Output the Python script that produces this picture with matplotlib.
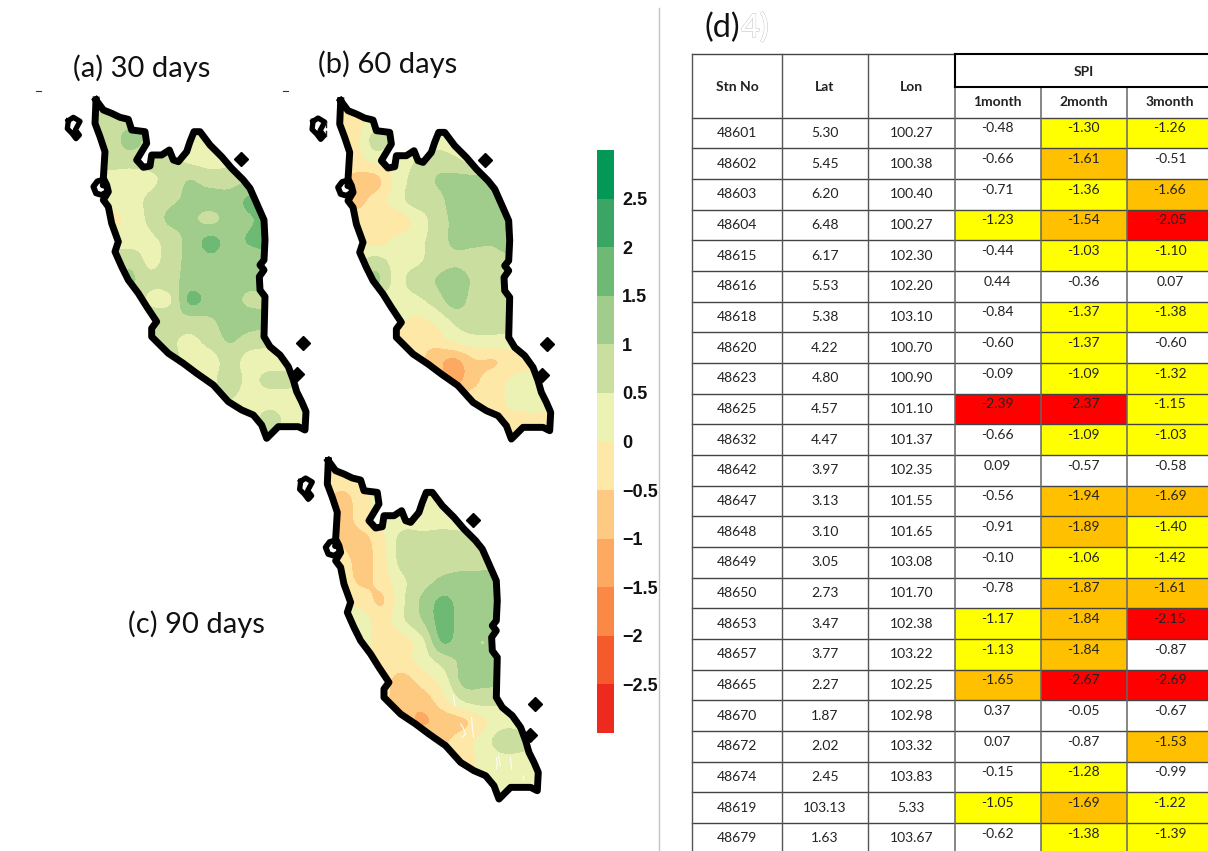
import matplotlib
matplotlib.use("Agg")
import matplotlib.pyplot as plt
import matplotlib.patheffects as pe
from matplotlib.colors import ListedColormap, BoundaryNorm
from matplotlib.cm import ScalarMappable
from matplotlib.patches import Polygon, Rectangle
import numpy as np

W, H = 1208, 851

# ---------- data ----------
STN = ["48601","48602","48603","48604","48615","48616","48618","48620","48623","48625","48632","48642",
       "48647","48648","48649","48650","48653","48657","48665","48670","48672","48674","48619","48679"]
LAT = ["5.30","5.45","6.20","6.48","6.17","5.53","5.38","4.22","4.80","4.57","4.47","3.97",
       "3.13","3.10","3.05","2.73","3.47","3.77","2.27","1.87","2.02","2.45","103.13","1.63"]
LON = ["100.27","100.38","100.40","100.27","102.30","102.20","103.10","100.70","100.90","101.10","101.37","102.35",
       "101.55","101.65","103.08","101.70","102.38","103.22","102.25","102.98","103.32","103.83","5.33","103.67"]
SPI1 = [-0.48,-0.66,-0.71,-1.23,-0.44,0.44,-0.84,-0.60,-0.09,-2.39,-0.66,0.09,
        -0.56,-0.91,-0.10,-0.78,-1.17,-1.13,-1.65,0.37,0.07,-0.15,-1.05,-0.62]
SPI2 = [-1.30,-1.61,-1.36,-1.54,-1.03,-0.36,-1.37,-1.37,-1.09,-2.37,-1.09,-0.57,
        -1.94,-1.89,-1.06,-1.87,-1.84,-1.84,-2.67,-0.05,-0.87,-1.28,-1.69,-1.38]
SPI3 = [-1.26,-0.51,-1.66,-2.05,-1.10,0.07,-1.38,-0.60,-1.32,-1.15,-1.03,-0.58,
        -1.69,-1.40,-1.42,-1.61,-2.15,-0.87,-2.69,-0.67,-1.53,-0.99,-1.22,-1.39]

LEVELS = [-3,-2.5,-2,-1.5,-1,-0.5,0,0.5,1,1.5,2,2.5,3]
LEVEL_COLORS = ["#EE2A1E","#F55A2D","#FB8845","#FDA962","#FEC981","#FEE8A8",
                "#ECF1B4","#CADF9F","#A0CD8C","#6EB974","#3BA565","#039855"]
TICKS = [-2.5,-2,-1.5,-1,-0.5,0,0.5,1,1.5,2,2.5]
TICK_LABELS = ["\u22122.5","\u22122","\u22121.5","\u22121","\u22120.5","0","0.5","1","1.5","2","2.5"]

GRID_X = [150,210,270,330,390,450,510,570,630,690,750,810]
GRID_Y = [60,120,180,240,300,360,420,480,540,600,660,720,780,840,900,960,1020,1080]

FIELD_30 = [
 [.7,.7,.7,.7,.4,.3,.3,.3,.3,.3,.3,.3],
 [.7,.7,.8,.8,.4,.3,.3,.3,.3,.3,.3,.3],
 [.7,.7,1.2,.8,.4,.3,.3,.3,.3,.3,.3,.3],
 [.7,.7,.7,.7,.6,.4,.3,.4,.6,.7,.7,.7],
 [.3,.3,.3,.4,.7,1.0,.8,.8,1.0,1.1,1.1,1.1],
 [.2,.2,.3,.6,.9,1.1,1.2,1.2,1.6,1.6,1.6,1.6],
 [-.2,-.2,.2,.6,1.1,1.1,.9,1.2,1.45,1.7,1.7,1.7],
 [.3,.3,.3,.4,.7,1.2,1.6,1.35,1.55,1.7,1.7,1.7],
 [.6,.6,.8,.4,.7,1.2,1.4,1.3,1.3,1.3,1.3,1.3],
 [.8,.8,1.1,.6,.8,1.2,1.2,1.2,1.2,1.2,1.2,1.2],
 [.7,.7,.7,.45,.45,1.6,1.3,1.2,.9,.9,.9,.9],
 [.7,.7,.7,.7,.8,.85,.95,1.2,1.2,1.1,1.1,1.1],
 [.7,.7,.7,.7,.6,.4,.7,1.05,.8,.7,.7,.7],
 [.7,.7,.7,.7,.7,.3,.3,.7,.3,.3,.3,.3],
 [.7,.7,.7,.7,.7,.4,.4,.7,.4,.65,.6,.3],
 [.5,.5,.5,.5,.5,.4,.4,.5,.3,.3,.3,.3],
 [.3,.3,.3,.3,.3,.3,.3,.3,.3,.7,.3,.3],
 [.3,.3,.3,.3,.3,.3,.3,.3,.3,.3,.3,.3],
]
FIELD_60 = [
 [-.2,-.2,.2,.2,.2,.3,.3,.3,.3,.3,.3,.3],
 [-.2,-.2,.2,.2,.2,.3,.3,.3,.3,.3,.3,.3],
 [-.2,-.2,.7,.4,.3,.3,.3,.3,.3,.3,.3,.3],
 [-.3,-.2,.1,.2,.5,.8,.6,.4,.5,.5,.5,.5],
 [-.4,-.7,-.7,.1,.7,1.0,1.2,1.2,1.2,1.2,1.2,1.2],
 [-.7,-.7,-.3,.2,.7,.8,1.2,1.2,1.2,1.2,1.2,1.2],
 [-.2,-.2,-.3,-.3,.1,.7,1.1,1.2,1.3,1.7,1.7,1.7],
 [.2,.2,-.2,.1,.3,.7,1.1,1.1,1.1,1.6,1.6,1.6],
 [.3,.3,.7,.35,.4,.7,.9,.8,.8,.8,.8,.8],
 [.4,.4,1.1,.4,.7,1.0,1.3,.9,.8,.8,.8,.8],
 [.3,.3,.3,.3,.35,.7,1.2,.8,.8,.8,.8,.8],
 [.2,.2,.2,.2,-.1,.1,.6,.8,.8,.8,.8,.8],
 [-.2,-.2,-.2,-.2,-.3,-.3,.1,.3,.3,.3,.3,.3],
 [-.3,-.3,-.3,-.3,-.3,-.8,-1.1,-.55,-.52,-.2,-.2,-.2],
 [-.6,-.6,-.6,-.6,-.6,-.6,-1.1,-.6,-.2,.1,.3,.3],
 [-.3,-.3,-.3,-.3,-.3,-.3,-.3,-.2,-.2,.2,.3,.2],
 [-.2,-.2,-.2,-.2,-.2,-.2,-.2,-.2,-.2,-.2,-.2,-.2],
 [-.2,-.2,-.2,-.2,-.2,-.2,-.2,-.2,-.2,-.2,-.2,-.2],
]
FIELD_90 = [
 [-.2,-.2,-.2,.2,.2,.3,.3,.3,.3,.3,.3,.3],
 [-.2,-.3,-.2,.2,.2,.3,.3,.3,.3,.3,.3,.3],
 [-.3,-.7,-.2,.2,.2,.3,.3,.3,.3,.3,.3,.3],
 [-.3,-.7,-.3,.0,.3,.3,.3,.3,.3,.3,.3,.3],
 [-.6,-.6,-.7,-.1,.7,.7,.8,.7,.6,.3,.3,.3],
 [-.3,-.3,-.7,-.2,.7,.8,.8,.8,.8,.9,.9,.9],
 [-.2,-.2,-.6,-.3,.4,.8,1.1,1.2,1.2,1.2,1.2,1.2],
 [.1,.1,-.2,-.55,.4,1.1,1.6,1.3,1.2,1.2,1.2,1.2],
 [.1,.1,.2,-.2,.4,1.0,1.7,1.3,1.2,1.2,1.2,1.2],
 [.1,.1,.2,-.3,-.2,.4,1.55,1.2,1.0,1.2,1.2,1.2],
 [.1,.1,.1,-.2,-.2,.2,.7,1.1,1.1,1.1,1.1,1.1],
 [-.3,-.3,-.3,-.3,-.7,-.3,.2,1.1,1.1,1.1,1.1,1.1],
 [-.4,-.4,-.4,-.4,-.8,-.8,-.2,.5,.7,.6,.6,.6],
 [-.8,-.8,-.8,-.8,-.8,-1.05,-.8,-.6,-.1,.3,.3,.3],
 [-.6,-.6,-.6,-.6,-.6,-.6,-.6,-.2,.2,.8,.7,.3],
 [-.2,-.2,-.2,-.2,-.2,-.2,-.2,-.2,.1,.3,.3,.3],
 [-.2,-.2,-.2,-.2,-.2,-.2,-.2,-.2,.2,.3,.3,.3],
 [.3,.3,.3,.3,.3,.3,.3,.3,.3,.3,.3,.3],
]

COAST_X = [168,190,215,240,265,275,315,320,305,290,310,330,335,365,388,400,415,440,450,462,480,510,545,575,610,630,650,672,
           675,672,660,672,658,660,675,672,690,720,745,760,770,785,798,795,775,715,680,665,640,605,565,520,470,430,385,360,
           335,335,350,320,295,265,245,225,235,215,205,190,205,200,190,195,180,165]
COAST_Y = [60,90,100,112,118,150,155,190,215,240,262,258,225,225,210,240,245,215,185,155,155,195,230,265,300,325,370,420,
           480,540,555,570,590,630,650,770,800,825,860,900,935,965,995,1050,1040,1040,1075,1035,1005,990,965,915,880,850,820,795,
           770,745,725,680,640,600,560,515,485,430,380,360,335,315,295,215,170,130]
PENANG_X = [192,172,160,168,185,203,198,188]
PENANG_Y = [298,304,320,340,345,334,318,316]
LANGKAWI_X = [85,100,120,106,118,108,96,82,85]
LANGKAWI_Y = [122,112,124,150,165,176,160,146,122]
ISLETS_X = [602,788,772]
ISLETS_Y = [237,790,883]

SQUIGGLE_X = [[543,546,548],[565,572,580,570],[598,600,604],[672,700,730,745],[672,675,672],[714,718],[752,755],[678,684],[760,770]]
SQUIGGLE_Y = [[765,780,795],[850,860,880,890],[830,860,890],[775,800,830,860],[950,970,985],[950,985],[1005,1018],[945,975],[860,850]]

# ---------- figure ----------
fig = plt.figure(figsize=(W/100, H/100), dpi=100, facecolor="white")
cmap = ListedColormap(LEVEL_COLORS)
norm = BoundaryNorm(LEVELS, cmap.N)

def px_axes(left, top, width, height, **kw):
    return fig.add_axes([left/W, 1-(top+height)/H, width/W, height/H], **kw)

def draw_map(left, top, field, squiggles=False):
    ax = px_axes(left, top, 290, 370)
    im = ax.imshow(np.array(field), cmap=cmap, norm=norm, aspect="auto", origin="upper",
                   extent=(GRID_X[0]-30, GRID_X[-1]+30, GRID_Y[-1]+30, GRID_Y[0]-30),
                   interpolation="catrom", interpolation_stage="data", zorder=2)
    ax.set_xlim(0, 870); ax.set_ylim(1110, 0); ax.axis("off")
    clip = Polygon(np.column_stack([COAST_X, COAST_Y]), closed=True, transform=ax.transData,
                   facecolor="#ECF1B4", edgecolor="none", zorder=1)
    ax.add_patch(clip)
    im.set_clip_path(clip)
    if squiggles:
        for sx, sy in zip(SQUIGGLE_X, SQUIGGLE_Y):
            ax.plot(sx, sy, color="white", lw=0.7, zorder=3)
    ax.plot(COAST_X+COAST_X[:1], COAST_Y+COAST_Y[:1], color="black", lw=5,
            solid_joinstyle="round", zorder=4)
    ax.plot(PENANG_X, PENANG_Y, color="black", lw=4.2, solid_capstyle="round", zorder=4)
    ax.plot(LANGKAWI_X, LANGKAWI_Y, color="black", lw=3.8, zorder=4)
    ax.plot(ISLETS_X, ISLETS_Y, ls="none", marker="D", ms=7.5, color="black", zorder=4)

draw_map(40, 80, FIELD_30)
draw_map(284.7, 80.7, FIELD_60)
draw_map(272.3, 440.7, FIELD_90, squiggles=True)

# colour bar
cax = px_axes(597, 150, 17, 583)
cb = fig.colorbar(ScalarMappable(norm=norm, cmap=cmap), cax=cax, ticks=TICKS, spacing="proportional")
cb.outline.set_visible(False)
cb.ax.minorticks_off()
cb.ax.tick_params(length=0, pad=6)
cb.ax.set_yticklabels(TICK_LABELS, fontfamily="Liberation Sans", fontsize=13, fontweight="bold", color="#111111")

# overlay in pixel units: table, labels, divider
ov = fig.add_axes([0, 0, 1, 1], zorder=5)
ov.set_xlim(0, W); ov.set_ylim(H, 0); ov.axis("off"); ov.patch.set_alpha(0)

ov.plot([659, 659], [8, H], color="#c4c4c4", lw=1)
ov.plot([36, 41], [91, 91], color="#333333", lw=0.8)
ov.plot([283, 288], [91, 91], color="#333333", lw=0.8)
ov.plot([326, 326], [122, 127], color="#222222", lw=1)
ov.plot([326, 326], [131, 136], color="#222222", lw=1)

LABEL_FONT = "Lato"
for x, y, s in [(73, 68, "(a) 30 days"), (318, 64, "(b) 60 days"), (128, 624, "(c) 90 days")]:
    ov.text(x, y, s, fontsize=21, family=LABEL_FONT, va="center", ha="left", color="#111111")
ov.text(705, 28, "(d)", fontsize=23.5, family=LABEL_FONT, va="center", ha="left", color="#111111")
ov.text(741, 28, "4)", fontsize=23.5, family=LABEL_FONT, va="center", ha="left", color="white",
        path_effects=[pe.withStroke(linewidth=0.9, foreground="#c8c8c8"), pe.Normal()])

COL = [692, 782, 868, 954.5, 1040.5, 1127, 1213]
TOP, SUB, HEAD = 54, 87, 117.5
ROW_H = 30.67
n = len(STN)
def shade(v):
    if v <= -2: return "#FF0000"
    if v <= -1.5: return "#FFC000"
    if v <= -1: return "#FFFF00"
    return None
for i in range(n):
    y0 = HEAD + i*ROW_H
    yc = y0 + ROW_H/2
    for j, s in enumerate([STN[i], LAT[i], LON[i]]):
        ov.text((COL[j]+COL[j+1])/2, yc, s, ha="center", va="center", fontsize=10, family=LABEL_FONT, color="#222222")
    for j, v in enumerate([SPI1[i], SPI2[i], SPI3[i]]):
        c = shade(v)
        if c:
            ov.add_patch(Rectangle((COL[j+3], y0), COL[j+4]-COL[j+3], ROW_H, facecolor=c, edgecolor="none", zorder=1))
        ov.text((COL[j+3]+COL[j+4])/2, yc-4.5, f"{v:.2f}", ha="center", va="center", fontsize=10,
                family=LABEL_FONT, color="#222222", zorder=3)

for i in range(n+1):
    y = HEAD + i*ROW_H
    ov.plot([COL[0], W], [y, y], color="#444444", lw=1, zorder=2)
ov.plot([COL[0], COL[3]], [TOP, TOP], color="#444444", lw=1, zorder=2)
ov.plot([COL[0], COL[0]], [TOP, H], color="#555555", lw=1, zorder=2)
for c in COL[1:3]:
    ov.plot([c, c], [TOP, H], color="#555555", lw=1, zorder=2)
for c in COL[3:6]:
    ov.plot([c, c], [SUB, H], color="#666666", lw=1.1, zorder=2)
ov.plot([COL[3], COL[3]], [TOP, SUB], color="black", lw=1.5, zorder=2)
ov.plot([COL[3], W], [TOP, TOP], color="black", lw=1.5, zorder=2)
ov.plot([COL[3], W], [SUB, SUB], color="black", lw=1.5, zorder=2)

for j, s in enumerate(["Stn No", "Lat", "Lon"]):
    ov.text((COL[j]+COL[j+1])/2, 87, s, ha="center", va="center", fontsize=10, fontweight="bold", family=LABEL_FONT, color="#222222")
ov.text((COL[3]+COL[6])/2, 71.5, "SPI", ha="center", va="center", fontsize=10, fontweight="bold", family=LABEL_FONT, color="#222222")
for j, s in enumerate(["1month", "2month", "3month"]):
    ov.text((COL[j+3]+COL[j+4])/2, 102.5, s, ha="center", va="center", fontsize=10, fontweight="bold", family=LABEL_FONT, color="#222222")

fig.savefig("out.png", dpi=100, facecolor="white")
